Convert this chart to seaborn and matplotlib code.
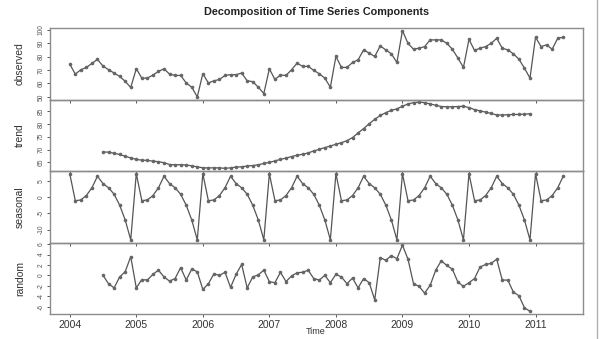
import numpy as np
import pandas as pd
import matplotlib
matplotlib.use("Agg")
import matplotlib.pyplot as plt
import seaborn as sns
from matplotlib.lines import Line2D

sns.set_theme(style="white")
plt.rcParams['font.family'] = ['Liberation Sans', 'DejaVu Sans']

start_year = 2004
observed = [74.5, 67, 70.3, 72, 75, 78, 73, 70.3, 67.8, 65.3, 61.6, 57,
            71, 64, 64, 66.3, 69, 71, 67, 66, 66, 60.4, 57.2, 50,
            67.3, 60.4, 62, 63, 66, 66.6, 66.6, 67.8, 62, 61.4, 57.2, 52.5,
            71, 63, 66.3, 66, 70.3, 75.2, 72.8, 72.8, 69.8, 67.3, 64, 57.2,
            80.2, 72, 72, 75.7, 77.7, 85.1, 82.7, 80.2, 88.1, 85.1, 82.2, 75.7,
            99.5, 90, 85.6, 86.4, 87.6, 92.6, 92.6, 92.6, 90, 85.6, 79, 72,
            93, 84.7, 86.4, 87.6, 90, 93.8, 86.4, 85.1, 82.2, 78.2, 71.5, 64,
            94.6, 87.6, 88.9, 85.6, 93.8, 94.6]

seasonal = [7.4, -1.0, -0.8, 0.6, 3.0, 6.6, 4.3, 3.0, 1.0, -2.4, -7.0, -13.2,
            7.4, -1.0, -0.8, 0.6, 3.0, 6.6, 4.3, 3.0, 1.0, -2.4, -7.0, -13.2,
            7.4, -1.0, -0.8, 0.6, 3.0, 6.6, 4.3, 3.0, 1.0, -2.4, -7.0, -13.2,
            7.4, -1.0, -0.8, 0.6, 3.0, 6.6, 4.3, 3.0, 1.0, -2.4, -7.0, -13.2,
            7.4, -1.0, -0.8, 0.6, 3.0, 6.6, 4.3, 3.0, 1.0, -2.4, -7.0, -13.2,
            7.4, -1.0, -0.8, 0.6, 3.0, 6.6, 4.3, 3.0, 1.0, -2.4, -7.0, -13.2,
            7.4, -1.0, -0.8, 0.6, 3.0, 6.6, 4.3, 3.0, 1.0, -2.4, -7.0, -13.2,
            7.4, -1.0, -0.8, 0.6, 3.0, 6.6]

# trend and random start Jul 2004 (offset 6 months), end Dec 2010
trend = [69.1, 69.0, 68.6, 68.1, 67.4, 66.8,
         66.2, 65.9, 65.8, 65.5, 65.3, 64.9, 64.2, 64.1, 64.1, 64.0, 63.7, 63.3,
         62.9, 62.9, 62.9, 62.9, 62.7, 62.9, 63.2, 63.3, 63.6, 63.8, 64.1, 64.6,
         65.0, 65.6, 66.2, 66.7, 67.3, 67.8, 68.2, 68.7, 69.5, 70.1, 70.8, 71.4,
         72.1, 72.7, 73.5, 74.7, 76.5, 78.2, 80.1, 81.8, 83.3, 84.4, 85.3, 85.9,
         86.9, 87.8, 88.3, 88.5, 88.3, 87.8, 87.3, 86.8, 86.7, 86.7, 86.8, 86.9,
         86.4, 85.6, 85.1, 84.6, 84.1, 83.5, 83.5, 83.6, 83.7, 83.7, 83.8, 84.0]

random_ = [0, -1.6, -2.4, -0.3, 0.7, 3.6,
           -2.4, -0.8, -0.9, 0.2, 1.0, -0.3, -1.1, -0.6, 1.5, -0.9, 1.2, 0.7,
           -2.7, -1.6, 0.3, 0, 0.6, -2.3, 0.2, 2.1, -2.4, -0.3, 0.1, 1.0,
           -1.2, -1.4, 0.6, -1.2, -0.1, 0.5, 0.6, 1.0, -0.6, -0.9, 0, -1.4,
           0.2, -0.3, -1.6, -0.5, -2.4, -0.6, -1.4, -4.7, 3.4, 2.9, 3.8, 3.2,
           5.8, 3.1, -1.6, -2.1, -3.4, -1.9, 1.0, 2.8, 1.9, 1.2, -1.3, -2.1,
           -1.4, -0.6, 1.6, 2.1, 2.3, 3.1, -0.9, -0.9, -3.2, -3.9, -6.2, -6.9]
offset = 6

year_ticks = [2004, 2005, 2006, 2007, 2008, 2009, 2010, 2011]
panel_names = ["observed", "trend", "seasonal", "random"]
ytick_sets = [[50, 60, 70, 80, 90, 100], [65, 70, 75, 80, 85],
              [-10, -5, 0, 5], [-6, -4, -2, 0, 2, 4, 6]]

def frame(vals, off):
    t = start_year + (np.arange(len(vals)) + off) / 12.0
    return pd.DataFrame({"time": t, "value": vals})

frames = [frame(observed, 0), frame(trend, offset),
          frame(seasonal, 0), frame(random_, offset)]

fig = plt.figure(figsize=(6.01, 3.39), dpi=100)
left, right = 50 / 601, 583 / 601
top, bottom = 1 - 28 / 339, 1 - 314 / 339
h = (top - bottom) / 4
xmin = start_year
xmax = start_year + (len(observed) - 1) / 12.0
pad = (xmax - xmin) * 0.04

line_col = "#555555"
spine_col = "#8c8c8c"
axes = []
for i, (name, df) in enumerate(zip(panel_names, frames)):
    ax = fig.add_axes([left, top - (i + 1) * h, right - left, h])
    ax.patch.set_alpha(0)
    sns.lineplot(data=df, x="time", y="value", ax=ax, color=line_col,
                 linewidth=0.9, marker="o", markersize=2.6,
                 markeredgewidth=0, markerfacecolor="#666666")
    ymin, ymax = df["value"].min(), df["value"].max()
    yp = (ymax - ymin) * 0.04
    ax.set_ylim(ymin - yp, ymax + yp)
    ax.set_xlim(xmin - pad, xmax + pad)
    ax.set_yticks(ytick_sets[i])
    ax.set_yticklabels([str(v) for v in ytick_sets[i]], rotation=90,
                       va="center", fontsize=4.8, color="#555555")
    ax.set_xticks(year_ticks)
    ax.tick_params(axis="both", direction="out", length=2.5, width=0.7,
                   color="#555555", left=True, bottom=True, pad=1.5)
    for s in ax.spines.values():
        s.set_color(spine_col)
        s.set_linewidth(1.0)
    ax.set_ylabel(name, fontsize=7.5, color="#333333")
    ax.yaxis.set_label_coords(-0.047, 0.5)
    if i < 3:
        ax.set_xticklabels([])
        ax.set_xlabel("")
    else:
        ax.set_xticklabels([str(y) for y in year_ticks], fontsize=7.5,
                           color="#333333")
        ax.set_xlabel("")
    ax.grid(False)
    axes.append(ax)

fig.text(0.527, 1 - 12 / 339, "Decomposition of Time Series Components",
         ha="center", va="center", fontsize=7.8, fontweight="bold",
         color="#222222")
fig.text(316 / 601, 1 - 331 / 339, "Time", ha="center", va="center",
         fontsize=6.5, color="#333333")
fig.add_artist(Line2D([597 / 601, 597 / 601], [0, 1], color="#b0b0b0",
                      linewidth=1.0, transform=fig.transFigure))

fig.savefig("out.png", dpi=100)
